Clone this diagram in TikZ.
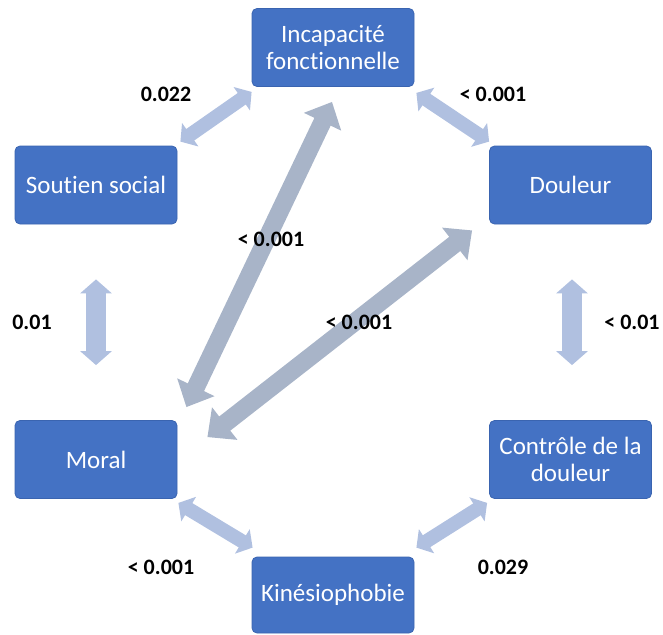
\documentclass[tikz,border=0pt]{standalone}
\usepackage{fontspec}
\setmainfont{Carlito}[Ligatures={NoCommon}]
\usetikzlibrary{arrows.meta,calc}
\definecolor{boxblue}{HTML}{4472C4}
\definecolor{boxedge}{HTML}{3A64B0}
\definecolor{shortarr}{HTML}{B0C0E0}
\definecolor{longarr}{HTML}{A8B4C8}
\tikzset{
  varbox/.style={draw=boxedge, line width=0.8pt, fill=boxblue, rounded corners=5pt,
    minimum width=162pt, minimum height=78pt, text=white, align=center,
    font=\fontsize{25}{27}\selectfont, inner sep=2pt},
  pval/.style={font=\fontsize{22}{24}\selectfont\bfseries, text=black},
  shortdbl/.style={color=shortarr, line width=14pt,
    {Triangle[width=28pt,length=12pt]}-{Triangle[width=28pt,length=12pt]}},
  vertdbl/.style={color=shortarr, line width=20pt,
    {Triangle[width=31pt,length=14pt]}-{Triangle[width=31pt,length=14pt]}},
  longdbl/.style={color=longarr, line width=18pt,
    {Triangle[width=40pt,length=22pt]}-{Triangle[width=40pt,length=22pt]}},
}
\begin{document}
\begin{tikzpicture}[x=1pt,y=-1pt]
\useasboundingbox (0,0) rectangle (663,634);
% boxes
\node[varbox] (incap) at (333,47.5) {Incapacité\\fonctionnelle};
\node[varbox] (soutien) at (96,185) {Soutien social};
\node[varbox] (douleur) at (570.5,185) {Douleur};
\node[varbox] (moral) at (96,459.5) {Moral};
\node[varbox] (controle) at (570.5,459.5) {Contrôle de la\\douleur};
\node[varbox, minimum height=76pt] (kinesio) at (333,595) {Kinésiophobie};
% arrow end points
\coordinate (a1) at ($(soutien.north east)+(3,-4)$);
\coordinate (b1) at ($(incap.south west)+(0,5)$);
\coordinate (a2) at ($(incap.south east)+(2,6)$);
\coordinate (b2) at ($(douleur.north west)+(0,-4)$);
\coordinate (a3) at ($(soutien.south)+(0,55)$);
\coordinate (b3) at ($(moral.north)+(0,-55)$);
\coordinate (a4) at ($(douleur.south)+(1.5,55)$);
\coordinate (b4) at ($(controle.north)+(1.5,-55)$);
\coordinate (a5) at ($(moral.south east)+(1,4)$);
\coordinate (b5) at ($(kinesio.north west)+(1,-9)$);
\coordinate (a6) at ($(controle.south west)+(-2,4)$);
\coordinate (b6) at ($(kinesio.north east)+(2,-9)$);
\coordinate (a7) at ($(moral.north east)+(9,-13)$);
\coordinate (b7) at ($(incap.south)+(-1,15)$);
\coordinate (a8) at ($(moral.north east)+(30,17)$);
\coordinate (b8) at ($(douleur.south west)+(-17,6)$);
% connectors
\draw[shortdbl] (a1) -- (b1);
\draw[shortdbl] (a2) -- (b2);
\draw[vertdbl] (a3) -- (b3);
\draw[vertdbl] (a4) -- (b4);
\draw[shortdbl] (a5) -- (b5);
\draw[shortdbl] (a6) -- (b6);
\draw[longdbl] (a7) -- (b7);
\draw[longdbl] (a8) -- (b8);
% labels
\node[pval] (l1) at (166,94) {0.022};
\node[pval] (l2) at (493,94) {< 0.001};
\node[pval] (l3) at (271,239) {< 0.001};
\node[pval] (l4) at (32,322) {0.01};
\node[pval] (l5) at (359,322) {< 0.001};
\node[pval] (l6) at (632,322) {< 0.01};
\node[pval] (l7) at (161,567) {< 0.001};
\node[pval] (l8) at (503,567) {0.029};
\end{tikzpicture}
\end{document}
